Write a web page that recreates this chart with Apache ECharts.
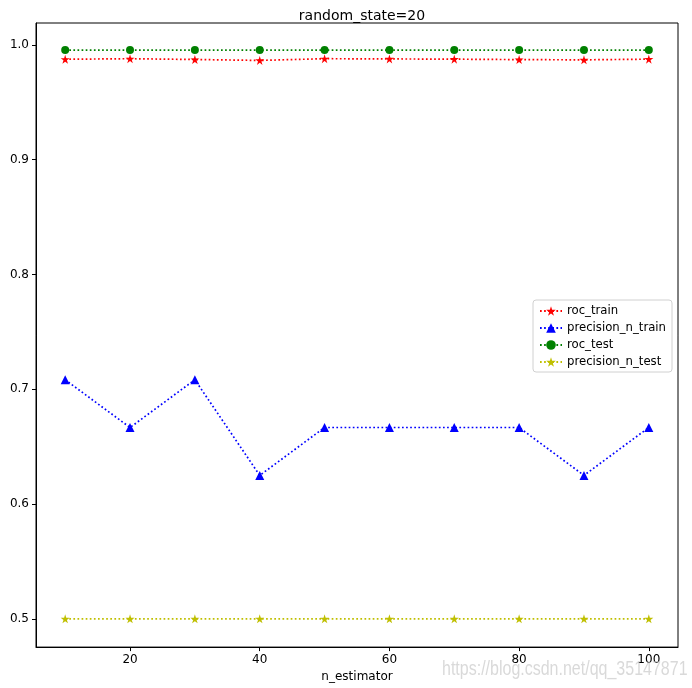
<!DOCTYPE html>
<html>
<head>
<meta charset="utf-8">
<script src="https://cdn.jsdelivr.net/npm/echarts@6/dist/echarts.min.js"></script>
<style>
  html, body {margin: 0; padding: 0; background: #fff;}
  #chart {width: 692px; height: 688px;}
</style>
</head>
<body>
<div id="chart"></div>
<script>
const nEstimator = [10, 20, 30, 40, 50, 60, 70, 80, 90, 100];
const rocTrain = [0.9875, 0.988, 0.9873, 0.9865, 0.988, 0.9878, 0.9876, 0.9872, 0.987, 0.9876];
const precisionTrain = [0.7083, 0.6667, 0.7083, 0.625, 0.6667, 0.6667, 0.6667, 0.6667, 0.625, 0.6667];
const rocTest = [0.9955, 0.9955, 0.9955, 0.9955, 0.9955, 0.9955, 0.9955, 0.9955, 0.9955, 0.9955];
const precisionTest = [0.5, 0.5, 0.5, 0.5, 0.5, 0.5, 0.5, 0.5, 0.5, 0.5];
const xTicks = [20, 40, 60, 80, 100];
const yTicks = [0.5, 0.6, 0.7, 0.8, 0.9, 1.0];

const star = 'path://M0,-1L0.2245,-0.309L0.951,-0.309L0.363,0.118L0.588,0.809L0,0.382L-0.588,0.809L-0.363,0.118L-0.951,-0.309L-0.2245,-0.309Z';
const font = 'DejaVu Sans';

const pair = (ys) => nEstimator.map((x, i) => [x, ys[i]]);
const mkSeries = (name, ys, color, symbol, size) => ({
    name,
    type: 'line',
    data: pair(ys),
    symbol,
    symbolSize: size,
    showSymbol: true,
    itemStyle: {color},
    lineStyle: {color, width: 1.7, type: [1.7, 2.4]},
    animation: false,
});

const chart = echarts.init(document.getElementById('chart'));
chart.setOption({
    textStyle: {fontFamily: font},
    title: {
        text: 'random_state=20',
        left: 357, top: 4, textAlign: 'center',
        textStyle: {fontSize: 14, fontWeight: 'normal', color: '#000', fontFamily: font},
    },
    grid: {
        left: 36, right: 14, top: 23, bottom: 40,
        show: true, borderColor: '#000', borderWidth: 1,
    },
    legend: {
        orient: 'vertical',
        left: 533, top: 300,
        padding: [5, 6, 4, 6],
        itemGap: 5,
        itemWidth: 22, itemHeight: 12,
        backgroundColor: '#fff',
        borderColor: '#d0d0d0', borderWidth: 1, borderRadius: 3,
        textStyle: {fontSize: 11.7, color: '#000', fontFamily: font},
        data: ['roc_train', 'precision_n_train', 'roc_test', 'precision_n_test'],
    },
    xAxis: {
        type: 'value',
        min: 5.5, max: 104.5,
        name: 'n_estimator',
        nameLocation: 'middle',
        nameGap: 23,
        nameTextStyle: {fontSize: 12, color: '#000', fontFamily: font},
        splitLine: {show: false},
        axisLine: {show: true, lineStyle: {color: '#000'}},
        axisTick: {show: true, inside: false, length: 4, lineStyle: {color: '#000'}, customValues: xTicks},
        axisLabel: {color: '#000', fontSize: 12, margin: 7, customValues: xTicks},
    },
    yAxis: {
        type: 'value',
        min: 0.4754, max: 1.0191,
        splitLine: {show: false},
        axisLine: {show: true, lineStyle: {color: '#000'}},
        axisTick: {show: true, inside: false, length: 4, lineStyle: {color: '#000'}, customValues: yTicks},
        axisLabel: {color: '#000', fontSize: 12, margin: 7, customValues: yTicks, formatter: v => v.toFixed(1)},
    },
    graphic: [{
        type: 'text',
        x: 442, y: 659,
        scaleX: 0.8,
        style: {text: 'https://blog.csdn.net/qq_35147871', fill: 'rgba(185,185,185,0.55)', fontSize: 20, fontFamily: 'Liberation Sans'},
        z: 100,
    }],
    series: [
        mkSeries('roc_train', rocTrain, '#ff0000', star, 9),
        mkSeries('precision_n_train', precisionTrain, '#0000ff', 'triangle', 9),
        mkSeries('roc_test', rocTest, '#008000', 'circle', 8),
        mkSeries('precision_n_test', precisionTest, '#bfbf00', star, 9),
    ],
});
</script>
</body>
</html>
